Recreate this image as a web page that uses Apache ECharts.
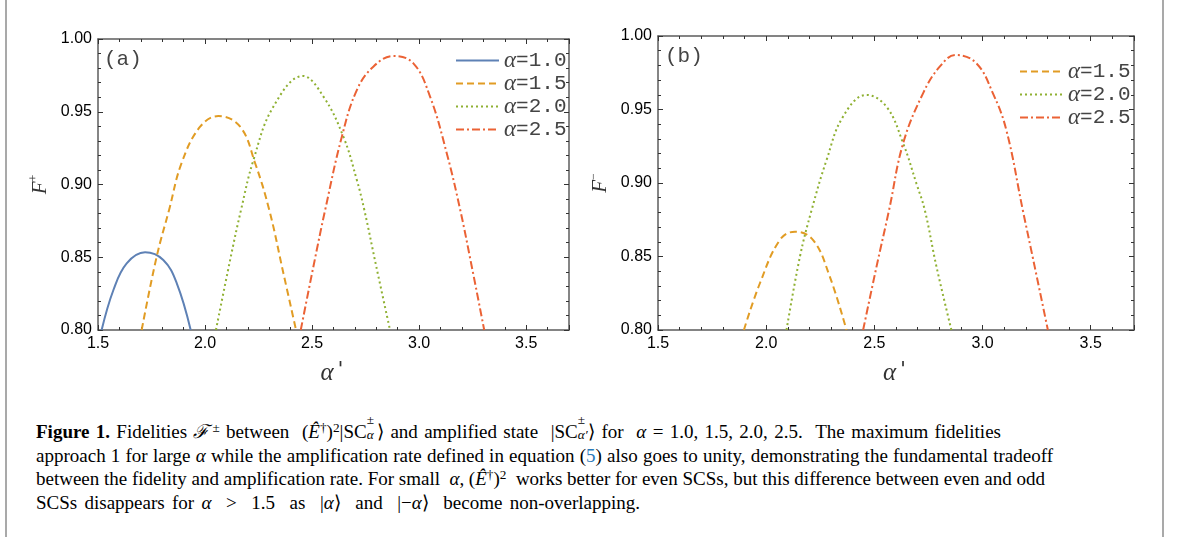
<!DOCTYPE html>
<html>
<head>
<meta charset="utf-8">
<script src="https://cdn.jsdelivr.net/npm/echarts@6/dist/echarts.min.js"></script>
<style>
  html, body { margin: 0; padding: 0; background: #fff; }
  .page { position: relative; width: 1179px; height: 537px; overflow: hidden; }
  .chart { position: absolute; left: 0; top: 0; width: 1179px; height: 400px; }
  .frame { position: absolute; top: 0; width: 2px; height: 537px; background: #a9a9a9; }
  .caption { position: absolute; left: 36px; top: 419px; font-family: 'Liberation Serif', serif; font-size: 19px; color: #000; }
  .caption div { height: 23.5px; line-height: 23.5px; white-space: nowrap; display: table; }
  .caption sup { font-size: 0.7em; position: relative; top: -0.45em; vertical-align: baseline; line-height: 0; }
  .caption .fs { margin-left: 3px; }
  .ss { display: inline-block; position: relative; width: 0.55em; height: 1em; vertical-align: baseline; }
  .ss span { position: absolute; left: 0; font-size: 0.7em; line-height: 1; }
  .ss .up { top: -0.45em; }
  .ss .dn { top: 0.7em; font-style: italic; }
  .ref { color: #2a7ab9; }
</style>
</head>
<body>
<div class="page">
  <div class="frame" style="left:5px"></div>
  <div class="frame" style="left:1162px"></div>
  <div id="chart" class="chart"></div>
  <div class="caption">
    <div data-w="965"><b>Figure 1.</b> Fidelities <i>ℱ</i><sup class="fs">±</sup> between &nbsp;(<i>Ê</i><sup>†</sup>)<sup>2</sup>|SC<span class="ss"><span class="up">±</span><span class="dn">α</span></span>⟩ and amplified state &nbsp;|SC<span class="ss"><span class="up">±</span><span class="dn">α′</span></span>⟩ for &nbsp;<i>α</i> = 1.0, 1.5, 2.0, 2.5. &nbsp;The maximum fidelities</div>
    <div data-w="1017">approach 1 for large <i>α</i> while the amplification rate defined in equation (<span class="ref">5</span>) also goes to unity, demonstrating the fundamental tradeoff</div>
    <div data-w="1009">between the fidelity and amplification rate. For small &nbsp;<i>α</i>, (<i>Ê</i><sup>†</sup>)<sup>2</sup> &nbsp;works better for even SCSs, but this difference between even and odd</div>
    <div data-w="604">SCSs disappears for <i>α</i> &nbsp;&gt; &nbsp;1.5 &nbsp;as &nbsp;|<i>α</i>⟩ &nbsp;and &nbsp;|−<i>α</i>⟩ &nbsp;become non-overlapping.</div>
  </div>
</div>
<script>
// panel (a): F+ against alpha'
var fPlus10 = [[1.517, 0.800], [1.572, 0.8275], [1.634, 0.8458], [1.720, 0.8534], [1.805, 0.8481], [1.868, 0.8321], [1.933, 0.800]]
var fPlus15 = [[1.704, 0.800], [1.774, 0.8504], [1.832, 0.8825], [1.891, 0.9150], [1.977, 0.9397], [2.062, 0.9470], [2.164, 0.9397], [2.234, 0.9146], [2.300, 0.8825], [2.366, 0.8390], [2.425, 0.800]]
var fPlus20 = [[2.051, 0.800], [2.117, 0.8480], [2.168, 0.8825], [2.226, 0.9168], [2.319, 0.9535], [2.457, 0.9746], [2.553, 0.9604], [2.646, 0.9329], [2.709, 0.9031], [2.744, 0.8825], [2.800, 0.8435], [2.864, 0.800]]
var fPlus25 = [[2.447, 0.800], [2.506, 0.8435], [2.561, 0.8825], [2.639, 0.9329], [2.709, 0.9649], [2.786, 0.9810], [2.880, 0.9883], [2.973, 0.9833], [3.051, 0.9604], [3.129, 0.9215], [3.192, 0.8825], [3.246, 0.8435], [3.304, 0.800]]
// panel (b): F- against alpha'
var fMinus15 = [[1.897, 0.800], [1.971, 0.8318], [2.063, 0.8612], [2.133, 0.8669], [2.217, 0.8612], [2.294, 0.8363], [2.371, 0.800]]
var fMinus20 = [[2.094, 0.800], [2.156, 0.8499], [2.210, 0.8816], [2.279, 0.9156], [2.355, 0.9451], [2.463, 0.9599], [2.556, 0.9519], [2.633, 0.9270], [2.694, 0.8998], [2.733, 0.8816], [2.787, 0.8431], [2.856, 0.800]]
var fMinus25 = [[2.448, 0.800], [2.510, 0.8431], [2.568, 0.8816], [2.633, 0.9270], [2.725, 0.9610], [2.802, 0.9791], [2.876, 0.9871], [2.971, 0.9815], [3.048, 0.9610], [3.110, 0.9360], [3.186, 0.8816], [3.241, 0.8431], [3.302, 0.800]]

var alphaA = ['1.0', '1.5', '2.0', '2.5']
var alphaB = ['1.5', '2.0', '2.5']
var xMin = 1.5
var xMax = 3.7
var yMin = 0.8
var yMax = 1.0

var colors = { '1.0': '#5E81B5', '1.5': '#E19C24', '2.0': '#8FB032', '2.5': '#EB6235' }
var dashes = { '1.0': 'solid', '1.5': [7, 4], '2.0': [2, 3], '2.5': [8, 3, 2, 3] }

var frameColor = '#5c5c5c'
var tickColor = '#333'

function xAxisOf (grid, pos, step, tickLen, withLabels, name) {
  return {
    gridIndex: grid,
    type: 'value',
    position: pos,
    min: xMin,
    max: xMax,
    interval: step,
    axisLine: { show: step < 0.5, onZero: false, lineStyle: { color: frameColor, width: 1.5 } },
    axisTick: { show: true, inside: true, length: tickLen, lineStyle: { color: tickColor, width: 1 } },
    splitLine: { show: false },
    axisLabel: {
      show: withLabels,
      color: '#000',
      fontSize: 16,
      fontFamily: 'Liberation Sans',
      margin: 6,
      formatter: function (v) {
        return Math.abs(v * 2 - Math.round(v * 2)) < 1e-6 ? v.toFixed(1) : ''
      }
    },
    name: name || '',
    nameLocation: 'middle',
    nameGap: 30,
    nameTextStyle: {
      rich: {
        a: { fontFamily: 'Liberation Serif', fontStyle: 'italic', fontSize: 25, color: '#333' },
        p: { fontFamily: 'DejaVu Sans Mono', fontSize: 20, color: '#333', padding: [0, 0, 6, 1] }
      }
    }
  }
}

function yAxisOf (grid, pos, withLabels, name) {
  return {
    gridIndex: grid,
    type: 'value',
    position: pos,
    min: yMin,
    max: yMax,
    interval: 0.05,
    axisLine: { show: true, onZero: false, lineStyle: { color: frameColor, width: 1.5 } },
    axisTick: { show: true, inside: true, length: 5, lineStyle: { color: tickColor, width: 1 } },
    minorTick: { show: true, splitNumber: 5, length: 3, lineStyle: { color: tickColor, width: 1 } },
    splitLine: { show: false },
    axisLabel: {
      show: withLabels,
      color: '#000',
      fontSize: 16,
      fontFamily: 'Liberation Sans',
      margin: 6,
      formatter: function (v) { return v.toFixed(2) }
    },
    name: name || '',
    nameLocation: 'middle',
    nameGap: 46,
    nameRotate: 90,
    nameTextStyle: {
      rich: {
        f: { fontFamily: 'Liberation Serif', fontStyle: 'italic', fontSize: 21, color: '#333', lineHeight: 24 },
        s: { fontFamily: 'Liberation Serif', fontSize: 12, color: '#333', verticalAlign: 'top', lineHeight: 24 }
      }
    }
  }
}

function seriesOf (panel, a, data, axisIndex) {
  return {
    type: 'line',
    name: panel + a,
    xAxisIndex: axisIndex,
    yAxisIndex: axisIndex / 2,
    data: data,
    symbol: 'none',
    smooth: 0.4,
    silent: true,
    lineStyle: { color: colors[a], width: 2, type: dashes[a] },
    itemStyle: { color: colors[a] }
  }
}

function legendOf (panel, list, left, top) {
  return {
    data: list.map(function (a) { return panel + a }),
    orient: 'vertical',
    left: left,
    top: top,
    padding: 0,
    itemWidth: 43,
    itemHeight: 10,
    itemGap: 0,
    selectedMode: false,
    itemStyle: { opacity: 0 },
    formatter: function (name) { return '{g|α}{m|=' + name.slice(1) + '}' },
    textStyle: {
      rich: {
        g: { fontFamily: 'Liberation Serif', fontStyle: 'italic', fontSize: 23, color: '#444', lineHeight: 25 },
        m: { fontFamily: 'Liberation Mono', fontSize: 21, color: '#444', lineHeight: 25 }
      }
    }
  }
}

var chart = echarts.init(document.getElementById('chart'))
chart.setOption({
  animation: false,
  backgroundColor: 'transparent',
  title: [
    { text: '(a)', left: 104, top: 49, padding: 0, textStyle: { fontFamily: 'Liberation Mono', fontSize: 21, fontWeight: 'normal', color: '#444' } },
    { text: '(b)', left: 665, top: 46, padding: 0, textStyle: { fontFamily: 'Liberation Mono', fontSize: 21, fontWeight: 'normal', color: '#444' } }
  ],
  grid: [
    { left: 98, top: 39, width: 471, height: 291 },
    { left: 658, top: 36, width: 476, height: 294 }
  ],
  xAxis: [
    xAxisOf(0, 'bottom', 0.1, 3, true, "{a|α}{p|'}"),
    xAxisOf(0, 'bottom', 0.5, 5, false),
    xAxisOf(0, 'top', 0.1, 3, false),
    xAxisOf(0, 'top', 0.5, 5, false),
    xAxisOf(1, 'bottom', 0.1, 3, true, "{a|α}{p|'}"),
    xAxisOf(1, 'bottom', 0.5, 5, false),
    xAxisOf(1, 'top', 0.1, 3, false),
    xAxisOf(1, 'top', 0.5, 5, false)
  ],
  yAxis: [
    yAxisOf(0, 'left', true, '{f|F}{s|+}'),
    yAxisOf(0, 'right', false),
    yAxisOf(1, 'left', true, '{f|F}{s|−}'),
    yAxisOf(1, 'right', false)
  ],
  legend: [
    legendOf('a', alphaA, 455, 49),
    legendOf('b', alphaB, 1019, 60)
  ],
  series: [
    seriesOf('a', '1.0', fPlus10, 0),
    seriesOf('a', '1.5', fPlus15, 0),
    seriesOf('a', '2.0', fPlus20, 0),
    seriesOf('a', '2.5', fPlus25, 0),
    seriesOf('b', '1.5', fMinus15, 4),
    seriesOf('b', '2.0', fMinus20, 4),
    seriesOf('b', '2.5', fMinus25, 4)
  ]
})

// spread each caption line to the width it has in the printed figure
document.querySelectorAll('.caption div').forEach(function (line) {
  var target = Number(line.getAttribute('data-w'))
  var spaces = (line.textContent.match(/[ \u00a0]/g) || []).length
  var extra = target - line.getBoundingClientRect().width
  if (spaces > 0) line.style.wordSpacing = (extra / spaces) + 'px'
})
</script>
</body>
</html>
